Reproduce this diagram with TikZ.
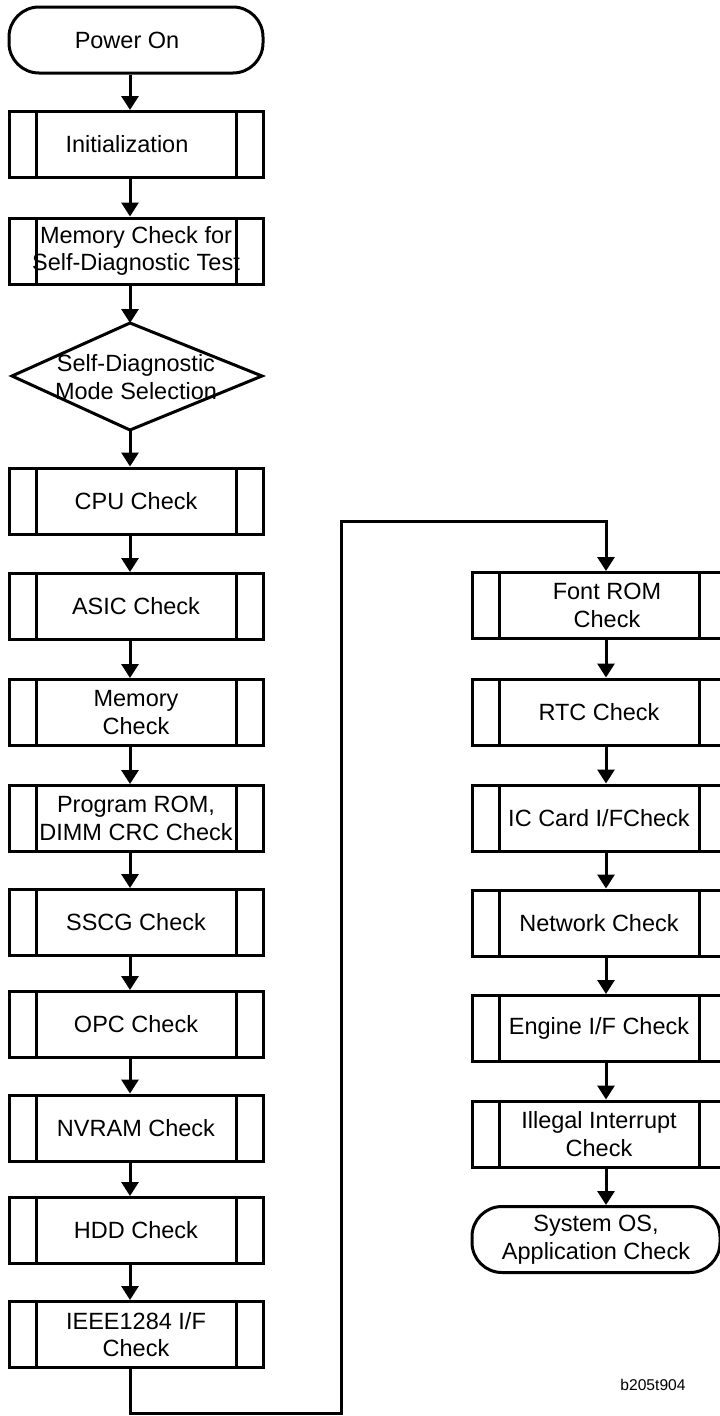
\documentclass[tikz,border=0pt]{standalone}
\usepackage{fontspec}
\setmainfont{Liberation Sans}
\usetikzlibrary{arrows.meta}
\begin{document}
\begin{tikzpicture}[x=1pt,y=-1pt, line width=3pt,
  every node/.style={font=\fontsize{23.5}{27.5}\selectfont, align=center, inner sep=0pt},
  proc/.style={draw, rectangle, minimum width=254pt, minimum height=66pt, path picture={
    \draw[line width=3pt] ([xshift=27pt]path picture bounding box.south west) -- ([xshift=27pt]path picture bounding box.north west);
    \draw[line width=3pt] ([xshift=-27pt]path picture bounding box.south east) -- ([xshift=-27pt]path picture bounding box.north east);}},
  term/.style={draw, rectangle, rounded corners=30pt, minimum width=254pt, minimum height=66pt},
  arr/.style={-{Triangle[length=14pt,width=17pt]}, line width=3pt}
]
\clip (0,0) rectangle (720,1416);
\coordinate (L) at (130,0);
\coordinate (R) at (606,0);
% left column
\node[term] (pwr) at (136,40) {\hspace*{-18pt}Power On};
\node[proc] (init) at (136,144.5) {\hspace*{-18pt}Initialization};
\node[proc] (msd) at (136,251) {Memory Check for\\Self-Diagnostic Test};
\coordinate (dT) at (130,323);
\coordinate (dR) at (262,376);
\coordinate (dB) at (130,430);
\coordinate (dL) at (12,376);
\draw (dT) -- (dR) -- (dB) -- (dL) -- cycle;
\node (dtxt) at (136,377) {Self-Diagnostic\\Mode Selection};
\node[proc] (cpu) at (136,501) {CPU Check};
\node[proc] (asic) at (136,606.5) {ASIC Check};
\node[proc] (mem) at (136,712.5) {Memory\\Check};
\node[proc] (prog) at (136,818.5) {Program ROM,\\DIMM CRC Check};
\node[proc] (sscg) at (136,922.5) {SSCG Check};
\node[proc] (opc) at (136,1024.5) {OPC Check};
\node[proc] (nvram) at (136,1128) {NVRAM Check};
\node[proc] (hdd) at (136,1230.5) {HDD Check};
\node[proc] (ieee) at (136,1334.5) {IEEE1284 I/F\\Check};
% right column
\node[proc] (fnt) at (599,605.5) {\hspace*{16pt}Font ROM\\\hspace*{16pt}Check};
\node[proc] (rtc) at (599,712) {RTC Check};
\node[proc] (ic) at (599,818) {IC Card I/FCheck};
\node[proc] (net) at (599,923) {Network Check};
\node[proc] (eng) at (599,1028.5) {Engine I/F Check};
\node[proc] (ill) at (599,1134) {Illegal Interrupt\\Check};
\node[term, minimum width=248pt] (sys) at (596,1239.5) {System OS,\\Application Check};
\node[font=\fontsize{15.6}{18}\selectfont] (lbl) at (653,1385) {b205t904};
% connectors
\draw[arr] (pwr.south -| L) -- (init.north -| L);
\draw[arr] (init.south -| L) -- (msd.north -| L);
\draw[arr] (msd.south -| L) -- (dT);
\draw[arr] (dB) -- (cpu.north -| L);
\draw[arr] (cpu.south -| L) -- (asic.north -| L);
\draw[arr] (asic.south -| L) -- (mem.north -| L);
\draw[arr] (mem.south -| L) -- (prog.north -| L);
\draw[arr] (prog.south -| L) -- (sscg.north -| L);
\draw[arr] (sscg.south -| L) -- (opc.north -| L);
\draw[arr] (opc.south -| L) -- (nvram.north -| L);
\draw[arr] (nvram.south -| L) -- (hdd.north -| L);
\draw[arr] (hdd.south -| L) -- (ieee.north -| L);
\coordinate (b1) at (130,1413);
\coordinate (b2) at (341,1413);
\coordinate (b3) at (341,521);
\coordinate (b4) at (606,521);
\draw[arr] (ieee.south -| L) -- (b1) -- (b2) -- (b3) -- (b4) -- (fnt.north -| R);
\draw[arr] (fnt.south -| R) -- (rtc.north -| R);
\draw[arr] (rtc.south -| R) -- (ic.north -| R);
\draw[arr] (ic.south -| R) -- (net.north -| R);
\draw[arr] (net.south -| R) -- (eng.north -| R);
\draw[arr] (eng.south -| R) -- (ill.north -| R);
\draw[arr] (ill.south -| R) -- (sys.north -| R);
\end{tikzpicture}
\end{document}
